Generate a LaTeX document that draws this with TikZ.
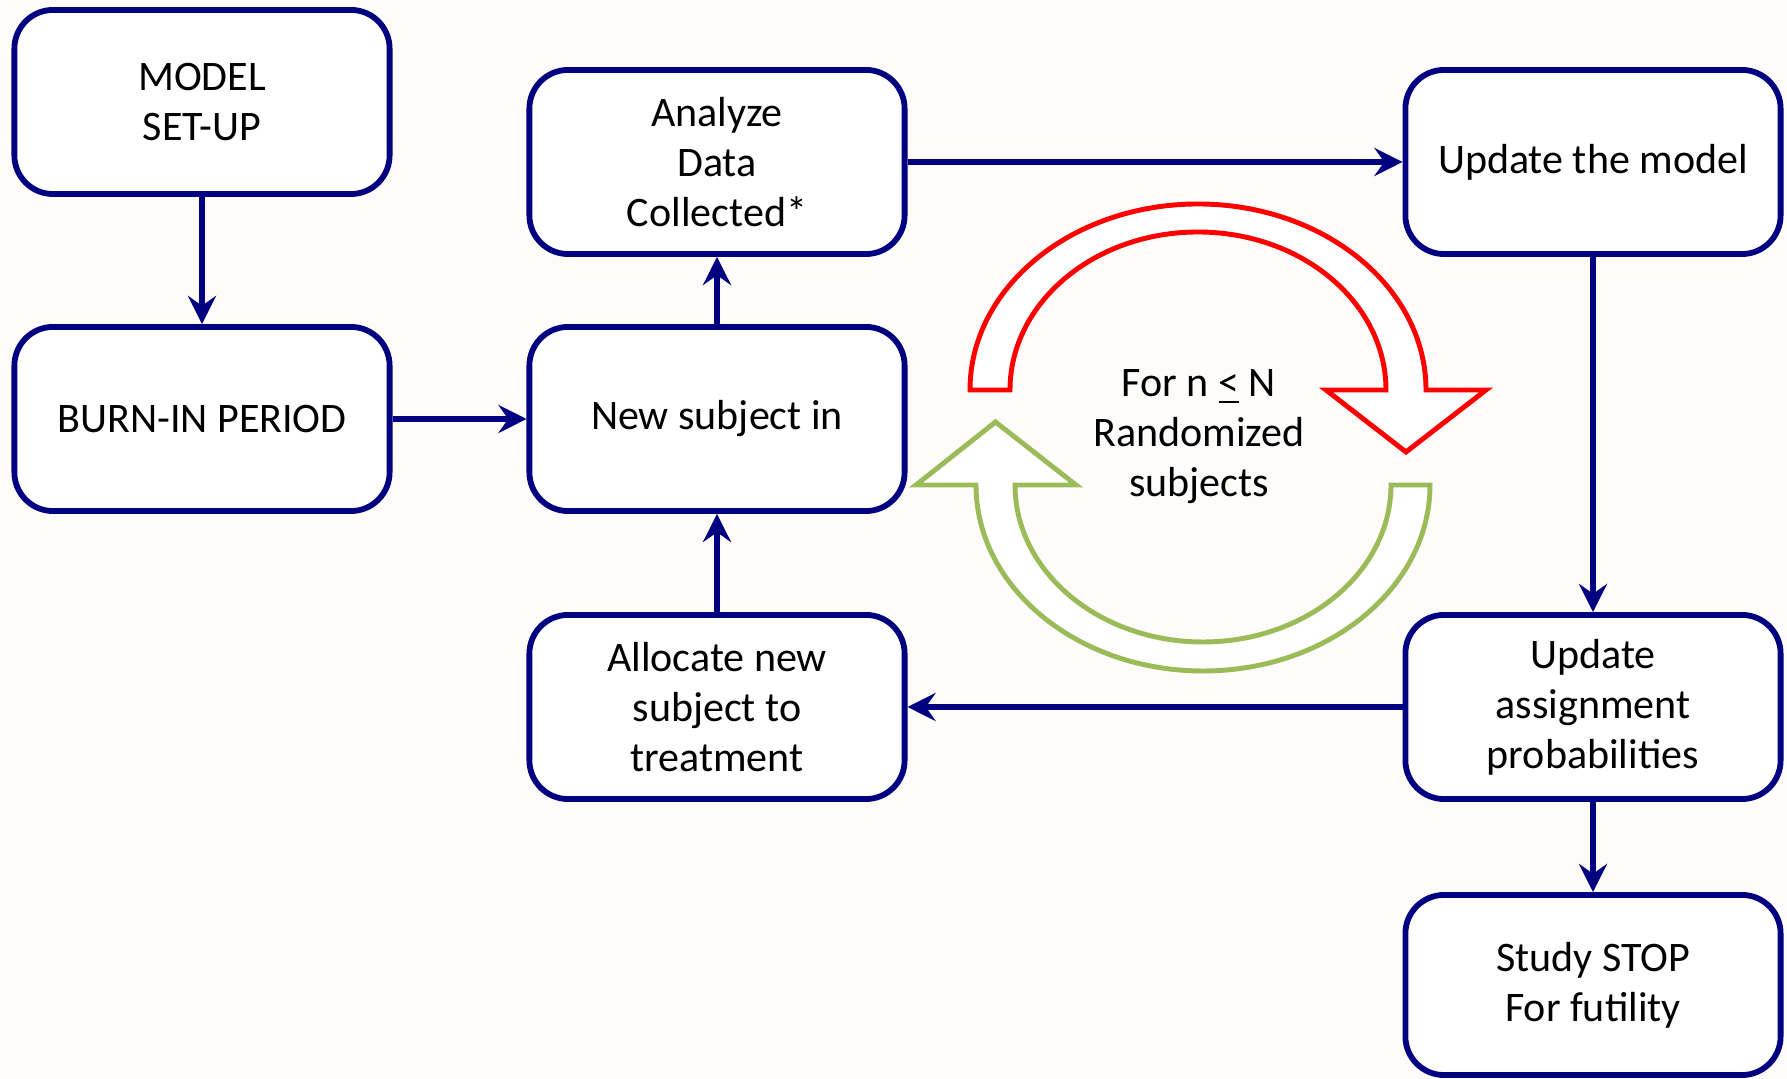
\documentclass[tikz,border=0pt]{standalone}
\usepackage{fontspec}
\setmainfont{Carlito}
\usetikzlibrary{arrows.meta}
\definecolor{navyb}{RGB}{0,0,128}
\definecolor{olivegr}{RGB}{155,187,89}
\definecolor{bgc}{RGB}{253,252,250}
\tikzset{
  box/.style={draw=navyb, line width=1.65pt, fill=white, rounded corners=11pt,
    minimum width=3.75cm, minimum height=1.84cm, align=center, inner sep=2pt,
    font=\fontsize{11.95}{14.2}\selectfont},
  conn/.style={draw=navyb, line width=1.5pt,
    -{Stealth[length=8pt, width=8pt, inset=2.8pt]}},
  bigarrow/.style={line width=1.4pt, fill=white, line join=miter},
  lbl/.style={align=center, font=\fontsize{11.95}{14.2}\selectfont}
}
\begin{document}
\begin{tikzpicture}[x=0.01cm, y=0.01cm]
\fill[bgc] (0,0) rectangle (1787,1079);
\useasboundingbox (0,0) rectangle (1787,1079);

% curved arrows
\draw[bigarrow, draw=red] (970,689) arc[start angle=180, end angle=0, x radius=228, y radius=186]
  -- (1486,689) -- (1406,627) -- (1326,689) -- (1386,689)
  arc[start angle=0, end angle=180, x radius=188, y radius=158] -- cycle;
\draw[bigarrow, draw=olivegr] (1430,594) arc[start angle=0, end angle=-180, x radius=227, y radius=186]
  -- (916,594) -- (995.5,657) -- (1076,594) -- (1015,594)
  arc[start angle=180, end angle=360, x radius=188, y radius=157] -- cycle;
\node[lbl] (loop) at (1199,642) {For n \underline{<} N\\Randomized\\subjects};

% boxes
\node[box] (model) at (202,977) {MODEL\\SET-UP};
\node[box] (burn) at (202,660) {BURN-IN PERIOD};
\node[box] (analyze) at (717,917) {Analyze\\Data\\Collected*};
\node[box] (newsub) at (717,660) {New subject in};
\node[box] (alloc) at (717,372) {Allocate new\\subject to\\treatment};
\node[box] (upmodel) at (1593,917) {Update the model};
\node[box] (assign) at (1593,372) {Update\\assignment\\probabilities};
\node[box, minimum height=1.8cm] (stop) at (1593,94) {Study STOP\\For futility};

% connectors
\draw[conn] (model) -- (burn);
\draw[conn] (burn) -- (newsub);
\draw[conn] (newsub) -- (analyze);
\draw[conn] (alloc) -- (newsub);
\draw[conn] (analyze) -- (upmodel);
\draw[conn] (upmodel) -- (assign);
\draw[conn] (assign) -- (alloc);
\draw[conn] (assign) -- (stop);
\end{tikzpicture}
\end{document}
